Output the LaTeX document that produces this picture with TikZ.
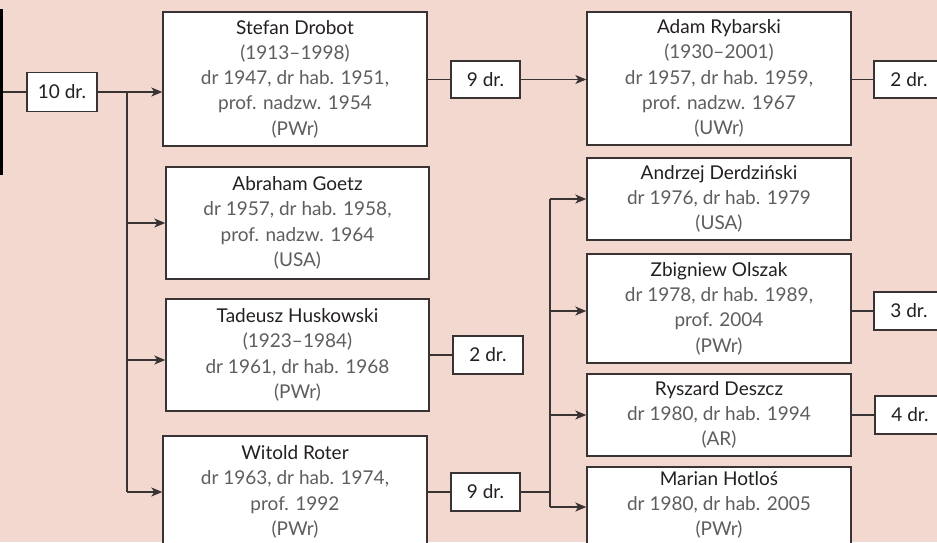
\documentclass[tikz,border=0pt]{standalone}
\usepackage{fontspec}
\setmainfont{Lato}
\usetikzlibrary{arrows.meta,calc}
\definecolor{bg}{HTML}{F2D8CF}
\definecolor{ln}{HTML}{3A3334}
\definecolor{nm}{HTML}{231F20}
\definecolor{gr}{HTML}{5E5E60}
\tikzset{
  x=1pt,y=-1pt,
  pbox/.style={draw=ln,line width=1.4pt,fill=white,inner sep=0pt,rectangle},
  cbox/.style={draw=ln,line width=1.4pt,fill=white,inner sep=0pt,rectangle,
    minimum width=70pt,minimum height=38pt,font=\fontsize{19}{20}\selectfont,text=nm},
  ptext/.style={align=center,inner sep=0pt,font=\fontsize{19}{25.3}\selectfont,text=gr},
  conn/.style={draw=ln,line width=1.3pt},
  arr/.style={conn,-{Stealth[length=11pt,width=9pt,inset=3pt]}},
}
\newcommand{\nmx}[1]{\textcolor{nm}{#1}}
\begin{document}
\begin{tikzpicture}
\useasboundingbox (0,0) rectangle (937,542);
\clip (0,0) rectangle (937,542);
\fill[bg] (0,0) rectangle (937,542);
% root box (cut off at left)
\node[draw=black,line width=3pt,minimum width=200pt,minimum height=163pt,inner sep=0pt] (root) at (-98.5,91.5) {};
% person boxes
\node[pbox,minimum width=264pt,minimum height=134pt] (stefan) at (295,79) {};
\node[ptext] (stefanT) at (stefan.center) {\nmx{Stefan Drobot}\\(1913--1998)\\dr 1947, dr hab. 1951,\\prof. nadzw. 1954\\(PWr)};
\node[pbox,minimum width=263pt,minimum height=112pt] (goetz) at (297.5,223) {};
\node[ptext] (goetzT) at (goetz.center) {\nmx{Abraham Goetz}\\dr 1957, dr hab. 1958,\\prof. nadzw. 1964\\(USA)};
\node[pbox,minimum width=263pt,minimum height=112pt] (husk) at (297.5,355) {};
\node[ptext] (huskT) at (husk.center) {\nmx{Tadeusz Huskowski}\\(1923--1984)\\dr 1961, dr hab. 1968\\(PWr)};
\node[pbox,minimum width=264pt,minimum height=112pt] (roter) at (295,492) {};
\node[ptext] (roterT) at (roter.center) {\nmx{Witold Roter}\\dr 1963, dr hab. 1974,\\prof. 1992\\(PWr)};
\node[pbox,minimum width=264pt,minimum height=133pt] (ryb) at (719,78.5) {};
\node[ptext] (rybT) at (ryb.center) {\nmx{Adam Rybarski}\\(1930--2001)\\dr 1957, dr hab. 1959,\\prof. nadzw. 1967\\(UWr)};
\node[pbox,minimum width=264pt,minimum height=82pt] (derd) at (719,199) {};
\node[ptext] (derdT) at (derd.center) {\nmx{Andrzej Derdziński}\\dr 1976, dr hab. 1979\\(USA)};
\node[pbox,minimum width=264pt,minimum height=109pt] (olsz) at (719,308.5) {};
\node[ptext] (olszT) at (olsz.center) {\nmx{Zbigniew Olszak}\\dr 1978, dr hab. 1989,\\prof. 2004\\(PWr)};
\node[pbox,minimum width=264pt,minimum height=82pt] (desz) at (719,415) {};
\node[ptext] (deszT) at (desz.center) {\nmx{Ryszard Deszcz}\\dr 1980, dr hab. 1994\\(AR)};
\node[pbox,minimum width=264pt,minimum height=100pt] (hotl) at (719,517) {};
\node[ptext] (hotlT) at (719,505) {\nmx{Marian Hotloś}\\dr 1980, dr hab. 2005\\(PWr)};
% count boxes
\node[cbox,minimum height=39pt] (c10) at (62,92) {10 dr.};
\node[cbox,minimum width=69pt,minimum height=37pt] (c9a) at (485.5,79.5) {9 dr.};
\node[cbox,minimum height=37pt] (c2a) at (909,79.5) {2 dr.};
\node[cbox] (c2b) at (488,355) {2 dr.};
\node[cbox,minimum width=69pt] (c9b) at (485.5,492) {9 dr.};
\node[cbox] (c3) at (909,311) {3 dr.};
\node[cbox] (c4) at (910,415) {4 dr.};
% coordinates for branch lines
\coordinate (b1) at (127,92);
\coordinate (b2) at (550,492);
% connectors
\draw[conn] (root.east |- c10.west) -- (c10.west);
\draw[arr] (c10.east) -- (c10.east -| stefan.west);
\draw[conn] (b1) -- (b1 |- roter.west);
\draw[arr] (b1 |- goetz.west) -- (goetz.west);
\draw[arr] (b1 |- 0,360) -- (husk.west |- 0,360);
\draw[arr] (b1 |- roter.west) -- (roter.west);
\draw[conn] (stefan.east |- c9a.west) -- (c9a.west);
\draw[arr] (c9a.east) -- (c9a.east -| ryb.west);
\draw[conn] (ryb.east |- c2a.west) -- (c2a.west);
\draw[conn] (husk.east) -- (c2b.west);
\draw[conn] (roter.east) -- (c9b.west);
\draw[conn] (c9b.east) -- (b2);
\draw[conn] (b2 |- derd.west) -- (b2 |- 0,507);
\draw[arr] (b2 |- derd.west) -- (derd.west);
\draw[arr] (b2 |- 0,311) -- (olsz.west |- 0,311);
\draw[arr] (b2 |- desz.west) -- (desz.west);
\draw[arr] (b2 |- 0,507) -- (hotl.west |- 0,507);
\draw[conn] (olsz.east |- c3.west) -- (c3.west);
\draw[conn] (desz.east |- c4.west) -- (c4.west);
\end{tikzpicture}
\end{document}
